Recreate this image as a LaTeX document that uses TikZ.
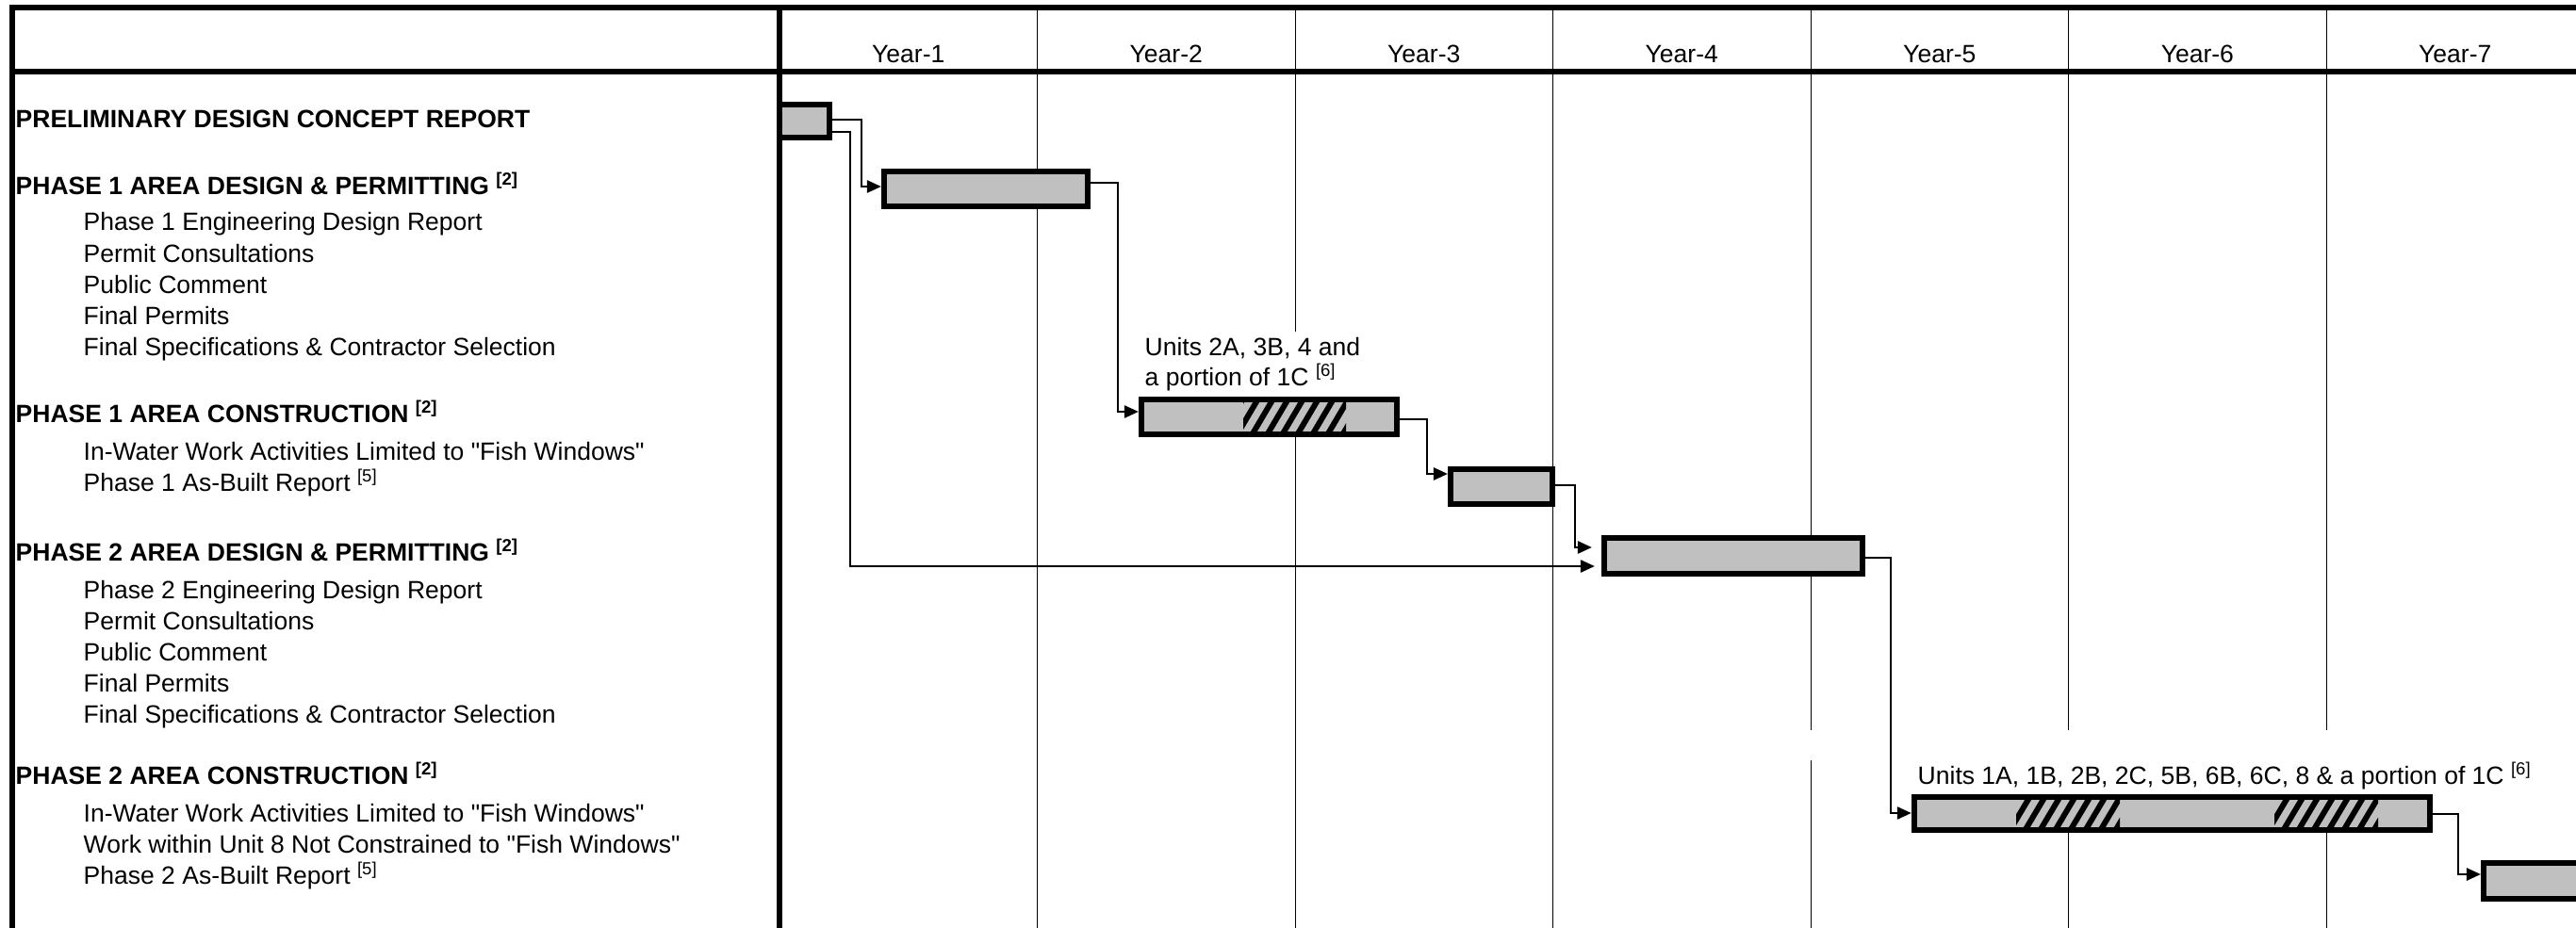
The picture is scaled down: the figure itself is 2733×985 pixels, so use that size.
\documentclass[tikz,border=0pt]{standalone}
\usepackage{fontspec}
\setmainfont{Liberation Sans}[Ligatures=TeXOff]
\usetikzlibrary{arrows.meta}
\definecolor{barfill}{HTML}{C0C0C0}
\begin{document}
\begin{tikzpicture}[x=0.01cm,y=-0.01cm,
  frameln/.style={line width=0.06cm},
  gridln/.style={line width=0.013cm},
  barbox/.style={draw, fill=barfill, line width=0.06cm, inner sep=0pt, rectangle},
  conn/.style={line width=0.025cm, -{Triangle[length=0.15cm,width=0.13cm]}},
  hatchln/.style={line width=0.06cm},
  txt/.style={anchor=base west, inner sep=0pt, font=\fontsize{7.54pt}{9.4pt}\selectfont},
  head/.style={txt, font=\fontsize{7.54pt}{9.4pt}\selectfont\bfseries},
  yr/.style={anchor=base, inner sep=0pt, font=\fontsize{7.54pt}{9.4pt}\selectfont}]
\useasboundingbox (0,0) rectangle (2733,985);
\clip (0,0) rectangle (2733,985);

% grid lines
\draw[gridln] (1100.5,8) -- (1100.5,985);
\draw[gridln] (1374.5,8) -- (1374.5,352);
\draw[gridln] (1374.5,464) -- (1374.5,985);
\draw[gridln] (1647.5,8) -- (1647.5,985);
\draw[gridln] (1921.5,8) -- (1921.5,775);
\draw[gridln] (1921.5,807) -- (1921.5,985);
\draw[gridln] (2194.5,8) -- (2194.5,775);
\draw[gridln] (2194.5,883) -- (2194.5,985);
\draw[gridln] (2468.5,8) -- (2468.5,775);
\draw[gridln] (2468.5,883) -- (2468.5,985);

% frame
\draw[frameln] (13,985) -- (13,8) -- (2733,8);
\draw[frameln] (10,76) -- (2733,76);
\draw[frameln] (827,8) -- (827,985);

% year labels
\node[yr] (y1) at (963.75,67) {Year-1};
\node[yr] (y2) at (1237.25,67) {Year-2};
\node[yr] (y3) at (1510.75,67) {Year-3};
\node[yr] (y4) at (1784.25,67) {Year-4};
\node[yr] (y5) at (2057.8,67) {Year-5};
\node[yr] (y6) at (2331.3,67) {Year-6};
\node[yr] (y7) at (2604.75,67) {Year-7};

% bars
\node[barbox, minimum width=0.53cm, minimum height=0.35cm] (A) at (853.5,128.5) {};
\node[barbox, minimum width=2.16cm, minimum height=0.37cm] (B) at (1046,200.5) {};
\node[barbox, minimum width=2.71cm, minimum height=0.37cm] (C) at (1346.5,442.5) {};
\node[barbox, minimum width=1.08cm, minimum height=0.37cm] (D) at (1593,516.5) {};
\node[barbox, minimum width=2.74cm, minimum height=0.38cm] (E) at (1839,590) {};
\node[barbox, minimum width=5.47cm, minimum height=0.35cm] (F) at (2304.5,863.5) {};
\node[barbox, minimum width=1.25cm, minimum height=0.38cm] (G) at (2697.5,935) {};

% hatching
\begin{scope}
  \clip (1319,427) rectangle (1428,458);
  \foreach \x in {1280,1296,...,1440} {
    \draw[hatchln] (\x,462) -- ({\x+23},423);
  }
\end{scope}
\begin{scope}
  \clip (2139,849) rectangle (2249,878);
  \foreach \x in {2100,2116,...,2260} {
    \draw[hatchln] (\x,882) -- ({\x+22},845);
  }
\end{scope}
\begin{scope}
  \clip (2413,849) rectangle (2523,878);
  \foreach \x in {2374,2390,...,2534} {
    \draw[hatchln] (\x,882) -- ({\x+22},845);
  }
\end{scope}

% connectors
\draw[conn] (A.east |- 0,127) -- (914,127) |- (B.west |- 0,198);
\draw[conn, shorten >=0.07cm] (A.east |- 0,140) -- (902,140) |- (E.west |- 0,601);
\draw[conn] (B.east |- 0,194) -- (1186,194) |- (C.west |- 0,437);
\draw[conn] (C.east |- 0,445) -- (1514,445) |- (D.west |- 0,503);
\draw[conn, shorten >=0.1cm] (D.east |- 0,515) -- (1671,515) |- (E.west |- 0,581);
\draw[conn] (E.east |- 0,592) -- (2006,592) |- (F.west |- 0,863);
\draw[conn] (F.east |- 0,864) -- (2608,864) |- (G.west |- 0,928);

% bar labels
\node[txt] (u1a) at (1214,377) {Units 2A, 3B, 4 and};
\node[txt] (u1b) at (1214,409) {a portion of 1C \textsuperscript{[6]}};
\node[txt] (u2) at (2034,832) {Units 1A, 1B, 2B, 2C, 5B, 6B, 6C, 8 \& a portion of 1C \textsuperscript{[6]}};

% left column
\node[head] (h0) at (16,136) {PRELIMINARY DESIGN CONCEPT REPORT};
\node[head] (h1) at (16,206) {PHASE 1 AREA DESIGN \& PERMITTING \textsuperscript{[2]}};
\node[txt] (s11) at (88,245) {Phase 1 Engineering Design Report};
\node[txt] (s12) at (88,278) {Permit Consultations};
\node[txt] (s13) at (88,311) {Public Comment};
\node[txt] (s14) at (88,344) {Final Permits};
\node[txt] (s15) at (88,377) {Final Specifications \& Contractor Selection};
\node[head] (h2) at (16,448) {PHASE 1 AREA CONSTRUCTION \textsuperscript{[2]}};
\node[txt] (s21) at (88,488) {In-Water Work Activities Limited to "Fish Windows"};
\node[txt] (s22) at (88,521) {Phase 1 As-Built Report \textsuperscript{[5]}};
\node[head] (h3) at (16,595) {PHASE 2 AREA DESIGN \& PERMITTING \textsuperscript{[2]}};
\node[txt] (s31) at (88,635) {Phase 2 Engineering Design Report};
\node[txt] (s32) at (88,668) {Permit Consultations};
\node[txt] (s33) at (88,701) {Public Comment};
\node[txt] (s34) at (88,734) {Final Permits};
\node[txt] (s35) at (88,767) {Final Specifications \& Contractor Selection};
\node[head] (h4) at (16,832) {PHASE 2 AREA CONSTRUCTION \textsuperscript{[2]}};
\node[txt] (s41) at (88,872) {In-Water Work Activities Limited to "Fish Windows"};
\node[txt] (s42) at (88,905) {Work within Unit 8 Not Constrained to "Fish Windows"};
\node[txt] (s43) at (88,938) {Phase 2 As-Built Report \textsuperscript{[5]}};
\end{tikzpicture}
\end{document}
